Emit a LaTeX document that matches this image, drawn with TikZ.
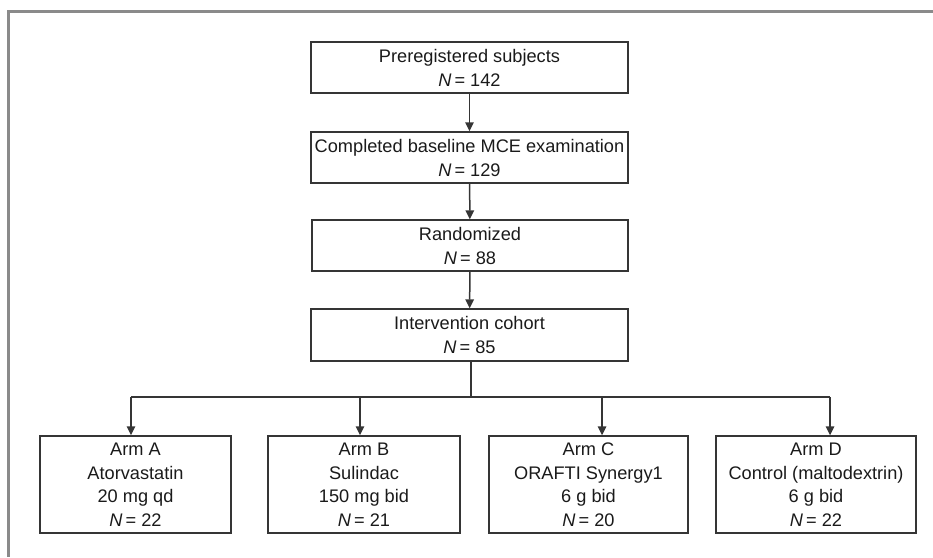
\documentclass[tikz,border=0pt]{standalone}
\usepackage{fontspec}
\setmainfont{Liberation Sans}
\usetikzlibrary{arrows.meta}
\definecolor{framegray}{HTML}{8A8A8A}
\definecolor{boxline}{HTML}{353535}
\definecolor{txt}{HTML}{1A1A1A}
\tikzset{
  flowbox/.style={draw=boxline, line width=1.4pt, rectangle, align=center, inner sep=0pt,
    text=txt, font=\fontsize{18.2}{23.5}\selectfont},
  flowarrow/.style={draw=boxline, line width=1.5pt, -{Triangle[length=9pt,width=8.5pt]}},
  flowline/.style={draw=boxline, line width=1.5pt},
  framestyle/.style={draw=framegray, line width=3pt}
}
\newcommand{\Nis}{\textit{N}\,= }
\begin{document}
\begin{tikzpicture}[x=1pt,y=-1pt]
\useasboundingbox (0,0) rectangle (933,557);
\coordinate (fTL) at (8,11);
\coordinate (fTR) at (933,11);
\coordinate (fBL) at (8,557);
\draw[framestyle] (fTR) -- (fTL) -- (fBL);

\node[flowbox, minimum width=317pt, minimum height=51pt] (b1) at (469.5,67.5) {Preregistered subjects\\[0.5pt]\Nis142};
\node[flowbox, minimum width=317pt, minimum height=51pt] (b2) at (469.5,157.5) {Completed baseline MCE examination\\[0.5pt]\Nis129};
\node[flowbox, minimum width=316pt, minimum height=51pt] (b3) at (470,245.5) {Randomized\\[0.5pt]\Nis88};
\node[flowbox, minimum width=317pt, minimum height=52pt] (b4) at (469.5,335) {Intervention cohort\\[0.5pt]\Nis85};

\node[flowbox, minimum width=191pt, minimum height=97pt] (armA) at (135.5,484.5) {Arm A\\Atorvastatin\\20 mg qd\\\Nis22};
\node[flowbox, minimum width=192pt, minimum height=97pt] (armB) at (364,484.5) {Arm B\\Sulindac\\150 mg bid\\\Nis21};
\node[flowbox, minimum width=199pt, minimum height=97pt] (armC) at (588.5,484.5) {Arm C\\ORAFTI Synergy1\\6 g bid\\\Nis20};
\node[flowbox, minimum width=200pt, minimum height=97pt] (armD) at (816,484.5) {Arm D\\Control (maltodextrin)\\6 g bid\\\Nis22};

\draw[flowarrow] (b1) -- (b2);
\draw[flowarrow] (b2) -- (b3);
\draw[flowarrow] (b3) -- (b4);

\coordinate (split) at (471,397);
\coordinate (jA) at (131,397);
\coordinate (jB) at (360,397);
\coordinate (jC) at (602,397);
\coordinate (jD) at (830,397);
\draw[flowline] (b4.south -| split) -- (split);
\draw[flowline] (jA) -- (jD);
\draw[flowarrow] (jA) -- (jA |- armA.north);
\draw[flowarrow] (jB) -- (jB |- armB.north);
\draw[flowarrow] (jC) -- (jC |- armC.north);
\draw[flowarrow] (jD) -- (jD |- armD.north);
\end{tikzpicture}
\end{document}
